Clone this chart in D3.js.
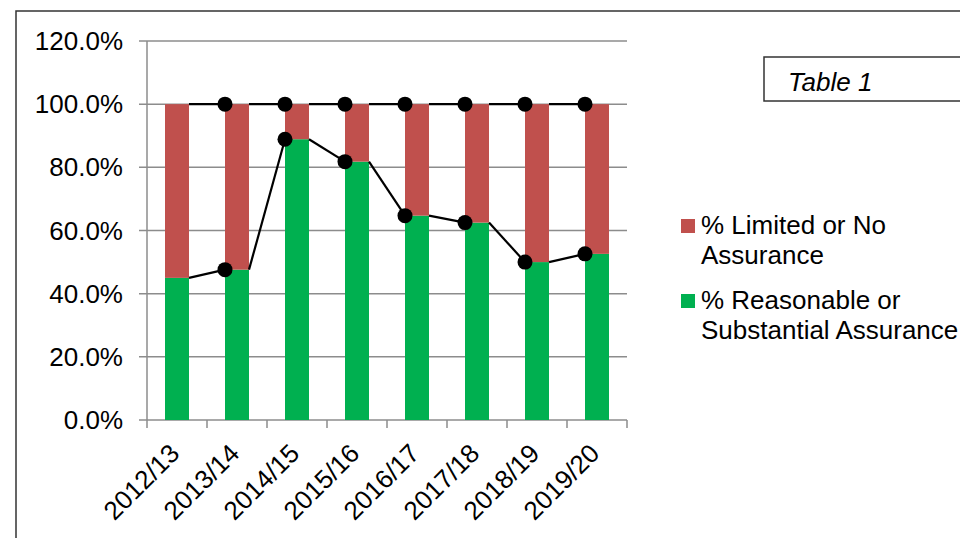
<!DOCTYPE html>
<html>
<head>
<meta charset="utf-8">
<script src="https://cdn.jsdelivr.net/npm/d3@7"></script>
<style>
    body { margin: 0; background: #fff; }
    svg { display: block; font-family: "Liberation Sans", Arial, sans-serif; }
</style>
</head>
<body>
<svg class="assurance-chart" width="960" height="538"></svg>
<script>

const years = ["2012/13", "2013/14", "2014/15", "2015/16", "2016/17", "2017/18", "2018/19", "2019/20"];
const reasonable = [45.0, 47.6, 88.9, 81.8, 64.7, 62.5, 50.0, 52.6];
const limited = [55.0, 52.4, 11.1, 18.2, 35.3, 37.5, 50.0, 47.4];
const yTicks = [0, 20, 40, 60, 80, 100, 120];

const legendItems = [
    {label: ["% Limited or No", "Assurance"], color: "#c0504d"},
    {label: ["% Reasonable or", "Substantial Assurance"], color: "#00b050"}
];

const svg = d3.select("svg.assurance-chart");
const fontSize = "26px";

// outer chart border (runs off the right and bottom of the picture)
svg.append("rect")
    .attr("x", 16)
    .attr("y", 11)
    .attr("width", 1000)
    .attr("height", 600)
    .attr("fill", "none")
    .attr("stroke", "#333")
    .attr("stroke-width", 1.5);

const plotLeft = 147, plotRight = 627, plotTop = 41, plotBottom = 420;

const x = d3.scaleBand()
    .domain(years)
    .range([plotLeft, plotRight])
    .paddingInner(0.6)
    .paddingOuter(0.3);

const y = d3.scaleLinear()
    .domain([0, 120])
    .range([plotBottom, plotTop]);

// gridlines
svg.append("g")
    .selectAll("line")
    .data(yTicks)
    .enter()
    .append("line")
    .attr("x1", plotLeft - 8)
    .attr("x2", plotRight)
    .attr("y1", d => y(d))
    .attr("y2", d => y(d))
    .attr("stroke", "#8c8c8c")
    .attr("stroke-width", 1.5);

// y axis line
svg.append("line")
    .attr("x1", plotLeft).attr("x2", plotLeft)
    .attr("y1", plotTop).attr("y2", plotBottom)
    .attr("stroke", "#8c8c8c")
    .attr("stroke-width", 1.5);

// x axis ticks between categories
const xTickPos = years.map((d, i) => plotLeft + i * x.step()).concat([plotRight]);
svg.append("g")
    .selectAll("line")
    .data(xTickPos)
    .enter()
    .append("line")
    .attr("x1", d => d).attr("x2", d => d)
    .attr("y1", plotBottom).attr("y2", plotBottom + 8)
    .attr("stroke", "#8c8c8c")
    .attr("stroke-width", 1.5);

// y labels
svg.append("g")
    .selectAll("text")
    .data(yTicks)
    .enter()
    .append("text")
    .attr("x", 123)
    .attr("y", d => y(d) + 9)
    .attr("text-anchor", "end")
    .style("font-size", fontSize)
    .style("fill", "#000")
    .text(d => d.toFixed(1) + "%");

// x labels, rotated
svg.append("g")
    .selectAll("text")
    .data(years)
    .enter()
    .append("text")
    .attr("transform", d => `translate(${x(d) + x.bandwidth() / 2 + 4}, 455) rotate(-45)`)
    .attr("text-anchor", "end")
    .style("font-size", fontSize)
    .style("fill", "#000")
    .text(d => d);

// stacked bars
const bars = svg.append("g");
bars.selectAll("rect.green")
    .data(years)
    .enter()
    .append("rect")
    .attr("class", "green")
    .attr("x", d => x(d))
    .attr("width", x.bandwidth())
    .attr("y", (d, i) => y(reasonable[i]))
    .attr("height", (d, i) => y(0) - y(reasonable[i]))
    .attr("fill", "#00b050");

bars.selectAll("rect.red")
    .data(years)
    .enter()
    .append("rect")
    .attr("class", "red")
    .attr("x", d => x(d))
    .attr("width", x.bandwidth())
    .attr("y", (d, i) => y(reasonable[i] + limited[i]))
    .attr("height", (d, i) => y(reasonable[i]) - y(reasonable[i] + limited[i]))
    .attr("fill", "#c0504d");

// series lines: right edge of one bar to left edge of the next
const totals = reasonable.map((v, i) => v + limited[i]);
[reasonable, totals].forEach(series => {
    const segs = series.slice(1).map((v, i) => ({
        x1: x(years[i]) + x.bandwidth(), y1: y(series[i]),
        x2: x(years[i + 1]), y2: y(v)
    }));
    svg.append("g")
        .selectAll("line")
        .data(segs)
        .enter()
        .append("line")
        .attr("x1", d => d.x1).attr("y1", d => d.y1)
        .attr("x2", d => d.x2).attr("y2", d => d.y2)
        .attr("stroke", "#000")
        .attr("stroke-width", 2.2);

    svg.append("g")
        .selectAll("circle")
        .data(series.slice(1))
        .enter()
        .append("circle")
        .attr("cx", (d, i) => x(years[i + 1]))
        .attr("cy", d => y(d))
        .attr("r", 7.5)
        .attr("fill", "#000");
});

// Table 1 box
svg.append("rect")
    .attr("x", 764)
    .attr("y", 57)
    .attr("width", 300)
    .attr("height", 44)
    .attr("fill", "#fff")
    .attr("stroke", "#333")
    .attr("stroke-width", 1.5);

svg.append("text")
    .attr("x", 788)
    .attr("y", 91)
    .style("font-size", fontSize)
    .style("font-style", "italic")
    .text("Table 1");

// legend
const legend = svg.selectAll("g.legend-item")
    .data(legendItems)
    .enter()
    .append("g")
    .attr("class", "legend-item")
    .attr("transform", (d, i) => `translate(681, ${219 + i * 75})`);

legend.append("rect")
    .attr("width", 14)
    .attr("height", 14)
    .attr("fill", d => d.color);

legend.append("text")
    .style("font-size", fontSize)
    .selectAll("tspan")
    .data(d => d.label)
    .enter()
    .append("tspan")
    .attr("x", 20)
    .attr("y", (d, i) => 15 + i * 30)
    .text(d => d);

</script>
</body>
</html>
